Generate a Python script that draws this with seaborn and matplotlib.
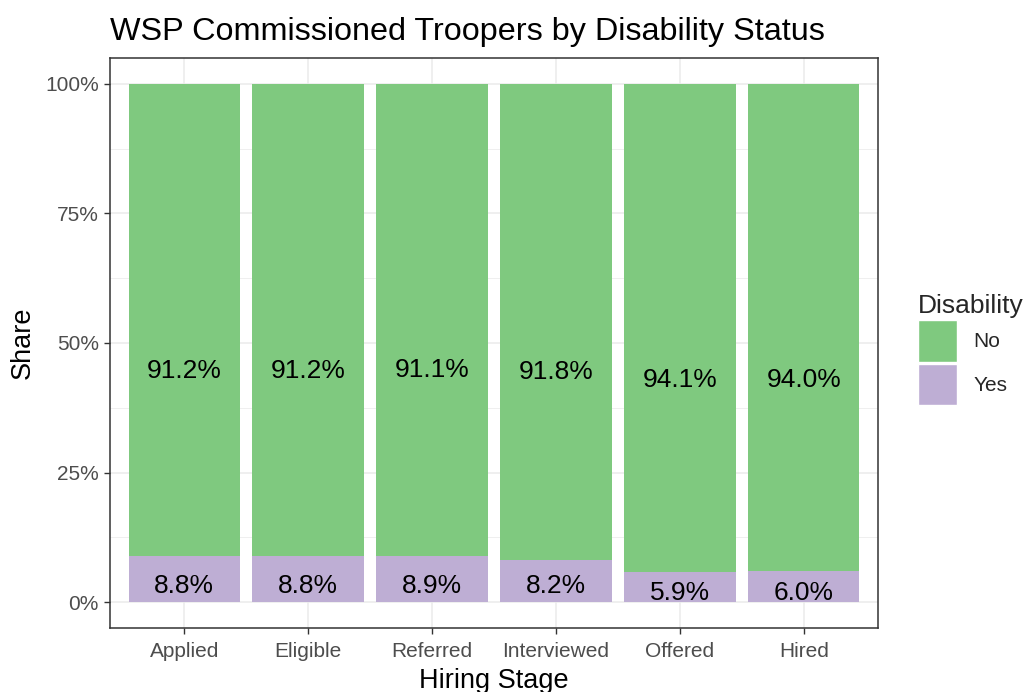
import matplotlib
matplotlib.use("Agg")
import matplotlib.pyplot as plt
from matplotlib.patches import Patch
from matplotlib.ticker import FixedLocator
import seaborn as sns
import pandas as pd

# ---- data ----
stages = ["Applied", "Eligible", "Referred", "Interviewed", "Offered", "Hired"]
share_no = [0.912, 0.912, 0.911, 0.918, 0.941, 0.940]
share_yes = [0.088, 0.088, 0.089, 0.082, 0.059, 0.060]
label_y_no = [0.446, 0.446, 0.448, 0.444, 0.429, 0.429]
label_y_yes = [0.031, 0.031, 0.031, 0.031, 0.018, 0.018]
legend_title = "Disability"
legend_labels = ["No", "Yes"]
y_ticks = [0, 0.25, 0.5, 0.75, 1.0]
y_tick_labels = ["0%", "25%", "50%", "75%", "100%"]

GREEN = "#7FC97F"
PURPLE = "#BEAED4"

sns.set_theme(style="white")
plt.rcParams["font.family"] = ["Liberation Sans", "DejaVu Sans"]

df = pd.DataFrame({
    "stage": stages,
    "no": share_no,
    "yes": share_yes,
})
df["total"] = df["no"] + df["yes"]

fig = plt.figure(figsize=(10.26, 6.92), dpi=100)
ax = fig.add_axes([0.1072, 0.0925, 0.7486, 0.8237])
ax.set_axisbelow(True)

sns.barplot(data=df, x="stage", y="total", color=GREEN, saturation=1,
            width=0.9, ax=ax, order=stages, edgecolor="none", linewidth=0)
sns.barplot(data=df, x="stage", y="yes", color=PURPLE, saturation=1,
            width=0.9, ax=ax, order=stages, edgecolor="none", linewidth=0)

for i, s in enumerate(stages):
    ax.text(i, label_y_no[i], f"{share_no[i]*100:.1f}%", ha="center",
            va="center", fontsize=19, color="black")
    ax.text(i, label_y_yes[i], f"{share_yes[i]*100:.1f}%", ha="center",
            va="center", fontsize=19, color="black")

ax.set_xlim(-0.6, len(stages) - 0.4)
ax.set_ylim(-0.05, 1.05)
ax.yaxis.set_major_locator(FixedLocator(y_ticks))
ax.set_yticklabels(y_tick_labels)
ax.yaxis.set_minor_locator(FixedLocator([0.125, 0.375, 0.625, 0.875]))

ax.grid(True, which="major", color="#EBEBEB", linewidth=1.1)
ax.grid(True, which="minor", axis="y", color="#EBEBEB", linewidth=0.55)

for sp in ax.spines.values():
    sp.set_visible(True)
    sp.set_color("#333333")
    sp.set_linewidth(1.1)

ax.tick_params(axis="both", which="major", length=4, width=1.0, color="#333333",
               labelsize=15, labelcolor="#4D4D4D", left=True, bottom=True)
ax.tick_params(axis="x", which="major", pad=6)
ax.tick_params(axis="y", which="major", pad=4)
ax.tick_params(axis="both", which="minor", length=0)

ax.set_xlabel("Hiring Stage", fontsize=19.5, color="black", labelpad=5)
ax.set_ylabel("Share", fontsize=19.5, color="black", labelpad=7)
ax.set_title("WSP Commissioned Troopers by Disability Status", fontsize=23.3,
             color="black", loc="left", pad=13)

handles = [Patch(facecolor=GREEN, edgecolor="white", label=legend_labels[0]),
           Patch(facecolor=PURPLE, edgecolor="white", label=legend_labels[1])]
leg = fig.legend(handles=handles, title=legend_title, loc="upper left",
                 bbox_to_anchor=(0.895, 0.5755), frameon=False, fontsize=15,
                 title_fontsize=19, handlelength=1.85, handleheight=2.7,
                 labelspacing=0.1, handletextpad=0.8, borderaxespad=0,
                 borderpad=0)
leg._legend_box.align = "left"

fig.savefig("out.png", dpi=100)
